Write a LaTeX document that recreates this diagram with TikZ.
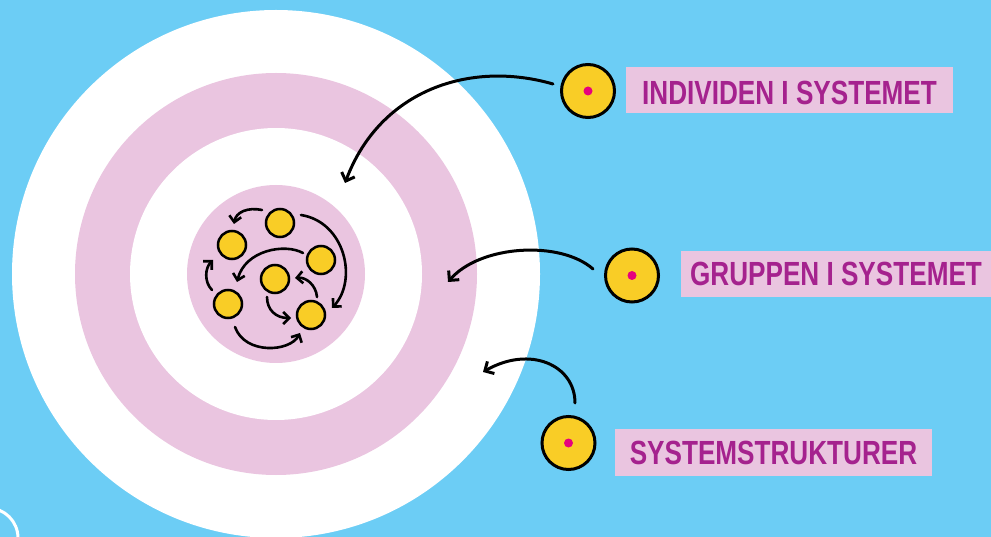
\documentclass[tikz,border=0pt]{standalone}
\usepackage{fontspec}
\newfontfamily\labelfont{Liberation Sans}[FakeStretch=0.78]
\usetikzlibrary{arrows.meta}
\definecolor{bgblue}{RGB}{108,205,245}
\definecolor{ringpink}{RGB}{234,197,224}
\definecolor{dotyellow}{RGB}{249,205,38}
\definecolor{labpurple}{RGB}{165,34,142}
\definecolor{dotmagenta}{RGB}{230,0,126}
\begin{document}
\begin{tikzpicture}[x=1pt,y=-1pt,
  bigarr/.style={line width=3pt,line cap=round,-{Straight Barb[length=7pt,width=14pt]}},
  smallarr/.style={line width=2.6pt,line cap=round,-{Straight Barb[length=6pt,width=12pt]}},
  smalldot/.style={circle,fill=dotyellow,draw=black,line width=2.5pt,minimum size=28pt,inner sep=0pt},
  bigdot/.style={circle,fill=dotyellow,draw=black,line width=3pt,minimum size=53pt,inner sep=0pt,
    path picture={\fill[dotmagenta] (path picture bounding box.center) circle (4.5pt);}},
  lab/.style={fill=ringpink,text=labpurple,inner sep=0pt,text height=24pt,text depth=0pt,
    font=\labelfont\bfseries\fontsize{33.5}{36}\selectfont}]
\useasboundingbox (0,0) rectangle (991,537);
\clip (0,0) rectangle (991,537);
\fill[bgblue] (0,0) rectangle (991,537);
% rings
\fill[white] (276,274) circle (264pt);
\fill[ringpink] (276,274) circle (201pt);
\fill[white] (276,274) circle (146pt);
\fill[ringpink] (276,274) circle (89pt);
% corner circle
\draw[white,line width=3pt] (-12,538) circle (30pt);
% cluster nodes
\node[smalldot] (T) at (280,223) {};
\node[smalldot] (LU) at (232,245) {};
\node[smalldot] (RM) at (321,260) {};
\node[smalldot] (C) at (275,279) {};
\node[smalldot] (LL) at (228,304) {};
\node[smalldot] (RL) at (311,315) {};
% cluster arrows
\draw[smallarr] ([shift={(-18,-13)}]T.center) .. controls (248,207) and (236,212) .. ([shift={(2,-21)}]LU.center);
\draw[smallarr] ([shift={(21,-8)}]T.center) .. controls (345,222) and (358,280) .. ([shift={(21,-7)}]RL.center);
\draw[smallarr] ([shift={(-18,-7)}]RM.center) .. controls (285,243) and (245,250) .. ([shift={(9,-22)}]LL.center);
\draw[smallarr] ([shift={(-16,-14)}]LL.center) .. controls (204,282) and (205,268) .. ([shift={(-19,15)}]LU.center);
\draw[smallarr] ([shift={(6,-18)}]RL.center) .. controls (316,285) and (306,277) .. ([shift={(20,-1)}]C.center);
\draw[smallarr] ([shift={(-8,18)}]C.center) .. controls (267,310) and (276,318) .. ([shift={(-20,3)}]RL.center);
\draw[smallarr] ([shift={(7,23)}]LL.center) .. controls (245,355) and (290,352) .. ([shift={(-11,18)}]RL.center);
% right-side nodes
\node[bigdot] (N1) at (588,91) {};
\node[bigdot] (N2) at (632,275.5) {};
\node[bigdot] (N3) at (568.5,443) {};
\node[lab,text height=30pt,minimum width=327pt,minimum height=46pt] (L1) at (789.5,90) {INDIVIDEN I SYSTEMET};
\node[lab,minimum width=310pt,minimum height=46pt] (L2) at (836,274) {GRUPPEN I SYSTEMET};
\node[lab,minimum width=317pt,minimum height=47pt] (L3) at (773.5,452.5) {SYSTEMSTRUKTURER};
% arrow targets
\coordinate (t1) at (345,183);
\coordinate (t2) at (448,282);
\coordinate (t3) at (483,372);
\draw[bigarr] ([shift={(-35,-7)}]N1.center) .. controls (470,60) and (380,90) .. (t1);
\draw[bigarr] ([shift={(-39,-6.5)}]N2.center) .. controls (560,240) and (480,245) .. (t2);
\draw[bigarr] ([shift={(6.5,-40)}]N3.center) .. controls (575,365) and (530,345) .. (t3);
\end{tikzpicture}
\end{document}
